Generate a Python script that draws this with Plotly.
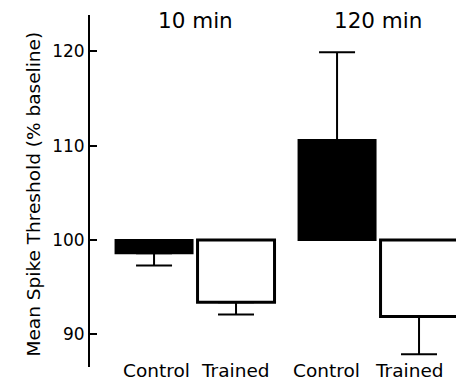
import plotly.graph_objects as go

# Spike threshold relative to baseline (%), per session delay and group
delays = ["10 min", "120 min"]
control_mean = [98.6, 110.6]
control_err = [1.3, 9.3]
trained_mean = [93.4, 91.9]
trained_err = [1.3, 4.0]
group_labels = ["Control", "Trained"]
y_ticks = [90, 100, 110, 120]
baseline = 100

FONT = "DejaVu Sans"


def one_sided(means, errs):
    """Error bar drawn only on the side away from baseline."""
    up = [e if m >= baseline else 0 for m, e in zip(means, errs)]
    down = [e if m < baseline else 0 for m, e in zip(means, errs)]
    return dict(type="data", symmetric=False, array=up, arrayminus=down,
                color="black", thickness=2, width=18)


fig = go.Figure()
fig.add_trace(go.Bar(
    x=delays, y=[m - baseline for m in control_mean], base=baseline,
    name="Control", marker=dict(color="black", line=dict(color="black", width=2)),
    error_y=one_sided(control_mean, control_err),
))
fig.add_trace(go.Bar(
    x=delays, y=[m - baseline for m in trained_mean], base=baseline,
    name="Trained", marker=dict(color="white", line=dict(color="black", width=3)),
    error_y=one_sided(trained_mean, trained_err),
))

annotations = []
# delay headers above each group
for d in delays:
    annotations.append(dict(x=d, y=1.0, xref="x", yref="paper", yshift=-5,
                            text=d, showarrow=False, yanchor="middle",
                            font=dict(family=FONT, size=21.5, color="black")))
# group names under the bars
label_offsets = [[-0.21, 0.22], [-0.28, 0.17]]
for i, d in enumerate(delays):
    for j, g in enumerate(group_labels):
        annotations.append(dict(x=i + label_offsets[i][j], y=0, xref="x", yref="paper",
                                yshift=-3, text=g, showarrow=False, yanchor="middle",
                                font=dict(family=FONT, size=18.5, color="black")))
annotations.append(dict(x=-0.153, y=0.49, xref="paper", yref="paper",
                        text="Mean Spike Threshold (% baseline)", textangle=-90,
                        showarrow=False, xanchor="center", yanchor="middle",
                        font=dict(family=FONT, size=18.5, color="black")))

fig.update_layout(
    width=456, height=386,
    margin=dict(l=90, r=0, t=15, b=19),
    paper_bgcolor="white", plot_bgcolor="white",
    barmode="group", bargap=0.104, bargroupgap=0.061,
    showlegend=False,
    annotations=annotations,
    font=dict(family=FONT, color="black"),
)
fig.update_xaxes(range=[-0.574, 1.426], showline=False, showticklabels=False,
                 ticks="", showgrid=False, zeroline=False)
fig.update_yaxes(range=[86.54, 123.85], tickvals=y_ticks, ticks="inside", ticklen=7,
                 tickwidth=2, tickcolor="black", showline=True, linewidth=2,
                 linecolor="black", showgrid=False, zeroline=False,
                 tickfont=dict(family=FONT, size=17, color="black"))

fig.write_html("out.html")
